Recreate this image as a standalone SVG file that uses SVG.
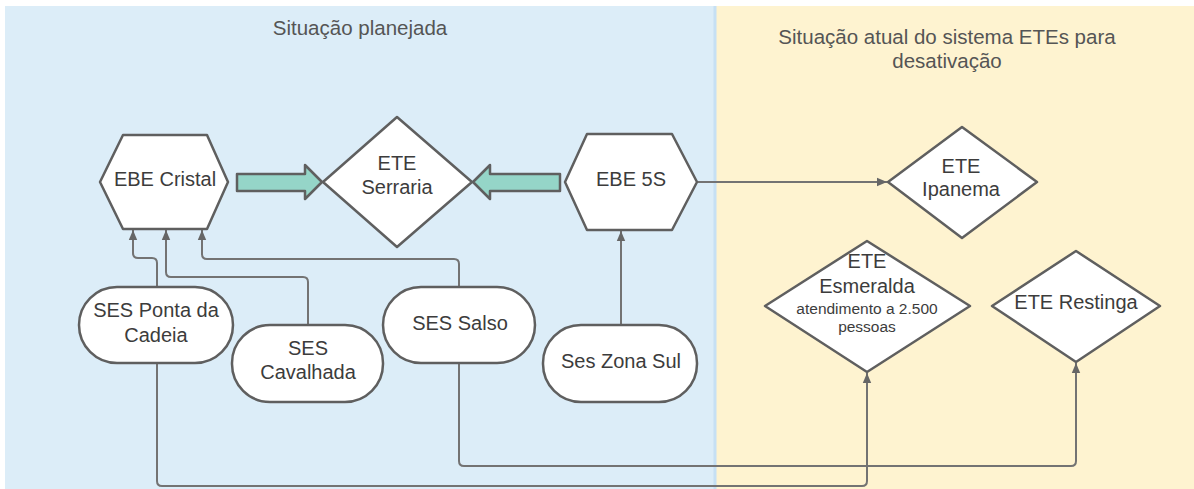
<svg xmlns="http://www.w3.org/2000/svg" width="1194" height="489" viewBox="0 0 1194 489">
  <defs>
    <style>
      .node { fill: #ffffff; stroke: #5f5f5f; stroke-width: 2.5; stroke-linejoin: round; }
      .flow { fill: #95d5c8; stroke: #5f5f5f; stroke-width: 2.5; stroke-linejoin: round; }
      .conn { fill: none; stroke: #737373; stroke-width: 2; }
      .lbl { font-family: "Liberation Sans", Arial, sans-serif; font-size: 20px; fill: #3c3c3c; text-anchor: middle; }
      .small { font-size: 15.5px; }
      .title { font-family: "Liberation Sans", Arial, sans-serif; font-size: 20.5px; fill: #555555; text-anchor: middle; }
    </style>
    <marker id="arrow" markerUnits="userSpaceOnUse" markerWidth="10" markerHeight="10" viewBox="0 0 10 10" refX="10" refY="5" orient="auto">
      <path d="M0,0.8 L10,5 L0,9.2 Z" fill="#666666"/>
    </marker>
  </defs>

  <!-- swimlane panels -->
  <g id="panels">
    <rect x="0" y="0" width="1194" height="489" fill="#ffffff"/>
    <rect x="5" y="6" width="711" height="483" fill="#dcedf8"/>
    <rect x="716" y="6" width="478" height="483" fill="#fef3d0"/>
    <line x1="715" y1="6" x2="715" y2="489" stroke="#c6e0f4" stroke-width="3"/>
    <text class="title" x="360" y="35">Situação planejada</text>
    <text class="title" x="947" y="44">Situação atual do sistema ETEs para</text>
    <text class="title" x="947" y="68">desativação</text>
  </g>

  <!-- connectors -->
  <g id="connectors">
    <path class="conn" d="M157,287 V263 Q157,258 152,258 H138 Q133,258 133,253 V230" marker-end="url(#arrow)"/>
    <path class="conn" d="M308,325 V282 Q308,277 303,277 H171 Q166,277 166,272 V230" marker-end="url(#arrow)"/>
    <path class="conn" d="M459,287 V264 Q459,259 454,259 H207 Q202,259 202,254 V230" marker-end="url(#arrow)"/>
    <path class="conn" d="M621,325 V231" marker-end="url(#arrow)"/>
    <path class="conn" d="M697,182 H887" marker-end="url(#arrow)"/>
    <path class="conn" d="M157,363 V481 Q157,486 162,486 H862 Q867,486 867,481 V373" marker-end="url(#arrow)"/>
    <path class="conn" d="M459,363 V461 Q459,466 464,466 H1071 Q1076,466 1076,461 V363" marker-end="url(#arrow)"/>
    <path class="flow" d="M237,174 H305 V165 L322,182 L305,199 V191 H237 Z"/>
    <path class="flow" d="M560,174 H490 V165 L473,182 L490,199 V191 H560 Z"/>
  </g>

  <g id="ebe-cristal">
    <polygon class="node" points="100,182 123,135 207,135 228,182 207,229 123,229"/>
    <text class="lbl" x="165" y="186">EBE Cristal</text>
  </g>

  <g id="ete-serraria">
    <polygon class="node" points="323,182 397,117 472,182 397,247"/>
    <text class="lbl" x="397" y="170">ETE</text>
    <text class="lbl" x="397" y="194">Serraria</text>
  </g>

  <g id="ebe-5s">
    <polygon class="node" points="565,182 587,134 672,134 697,182 672,230 587,230"/>
    <text class="lbl" x="631" y="186">EBE 5S</text>
  </g>

  <g id="ete-ipanema">
    <polygon class="node" points="888,182 962,127 1037,182 962,238"/>
    <text class="lbl" x="961" y="173">ETE</text>
    <text class="lbl" x="961" y="196">Ipanema</text>
  </g>

  <g id="ete-esmeralda">
    <polygon class="node" points="765,306 867,241 970,306 867,372"/>
    <text class="lbl" x="867" y="268">ETE</text>
    <text class="lbl" x="867" y="293">Esmeralda</text>
    <text class="lbl small" x="867" y="314">atendimento a 2.500</text>
    <text class="lbl small" x="867" y="332">pessoas</text>
  </g>

  <g id="ete-restinga">
    <polygon class="node" points="992,306 1076,251 1160,306 1076,362"/>
    <text class="lbl" x="1076" y="309">ETE Restinga</text>
  </g>

  <g id="ses-ponta-da-cadeia">
    <rect class="node" x="79" y="287" width="154" height="76" rx="38" ry="38"/>
    <text class="lbl" x="156" y="317">SES Ponta da</text>
    <text class="lbl" x="156" y="342">Cadeia</text>
  </g>

  <g id="ses-cavalhada">
    <rect class="node" x="232" y="325" width="151" height="77" rx="38" ry="38"/>
    <text class="lbl" x="308" y="355">SES</text>
    <text class="lbl" x="308" y="379">Cavalhada</text>
  </g>

  <g id="ses-salso">
    <rect class="node" x="383" y="287" width="152" height="76" rx="38" ry="38"/>
    <text class="lbl" x="460" y="330">SES Salso</text>
  </g>

  <g id="ses-zona-sul">
    <rect class="node" x="543" y="325" width="154" height="77" rx="38" ry="38"/>
    <text class="lbl" x="621" y="368">Ses Zona Sul</text>
  </g>
</svg>
